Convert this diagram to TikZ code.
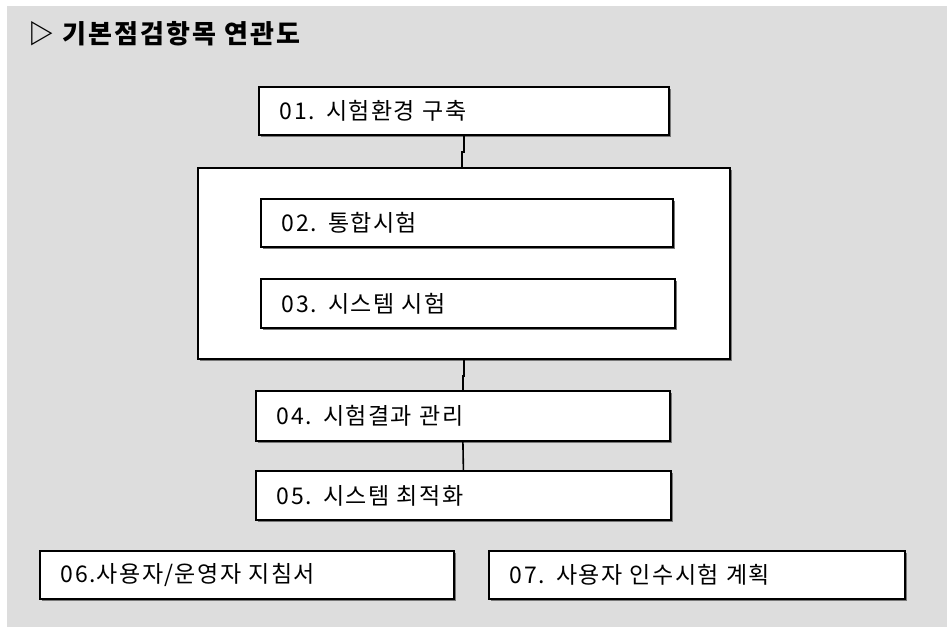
\documentclass[tikz,border=0pt]{standalone}
\usepackage{fontspec}
\setmainfont{Noto Sans CJK KR}
\newfontfamily\boxfont[LetterSpace=6]{Noto Sans CJK KR}
\newfontfamily\titlefont[LetterSpace=8]{Noto Sans CJK KR}
\usepackage{xcolor}
\usepackage{tikz}
\usetikzlibrary{shadows}
\definecolor{panelgray}{RGB}{221,221,221}
\definecolor{shadowgray}{RGB}{120,120,120}

\begin{document}
\begin{tikzpicture}[
  x=1pt, y=-1pt,
  box/.style={draw, fill=white, line width=1.8pt, anchor=north west,
    inner xsep=21pt, inner ysep=0pt, text width=#1, align=left,
    font=\boxfont\fontsize{23}{27}\selectfont,
    drop shadow={shadow xshift=2.5pt, shadow yshift=-2.5pt, fill=shadowgray, opacity=1}},
  link/.style={line width=1.6pt}
]
\useasboundingbox (0,0) rectangle (947,627);
\fill[panelgray] (7,6) rectangle (947,627);

% Title
\node[anchor=west, font=\titlefont\bfseries\fontsize{26}{30}\selectfont] (title) at (25,34) {▷ 기본점검항목 연관도};

% Boxes
\node[box=368pt, minimum height=48pt] (b01) at (258,86) {01. 시험환경 구축};
\node[box=490pt, minimum height=191pt] (outer) at (197,167) {};
\node[box=370pt, minimum height=48pt] (b02) at (260,198) {02. 통합시험};
\node[box=372pt, minimum height=49pt] (b03) at (260,278) {03. 시스템 시험};
\node[box=372pt, minimum height=50pt] (b04) at (255,390) {04. 시험결과 관리};
\node[box=373pt, minimum height=49pt] (b05) at (255,470) {05. 시스템 최적화};
\node[box=372pt, minimum height=48pt] (b06) at (39,550) {06.사용자/운영자 지침서};
\node[box=374pt, minimum height=48pt] (b07) at (488,550) {07. 사용자 인수시험 계획};

% Lines
\draw[link] (b01.south) -- ++(0,16) -| ([xshift=-2pt]outer.north);
\draw[link] (outer.south) -- ++(0,16) -| (b04.north);
\draw[link] (b04.south) -- (b05.north);
\end{tikzpicture}
\end{document}
